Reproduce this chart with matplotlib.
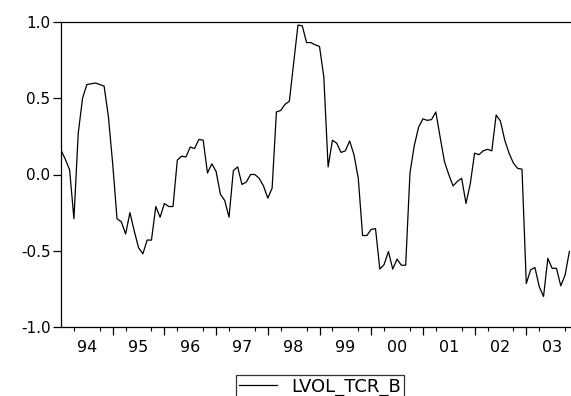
import matplotlib
matplotlib.use("Agg")
import matplotlib.pyplot as plt
import numpy as np

# Monthly series LVOL_TCR_B, Jan 1994 .. Nov 2003
start_year = 1994
values = [
    0.16, 0.10, 0.03, -0.29, 0.27, 0.50, 0.59, 0.595, 0.60, 0.59, 0.58, 0.38,      # 1994
    0.07, -0.29, -0.31, -0.39, -0.25, -0.37, -0.48, -0.52, -0.43, -0.43, -0.21, -0.28,  # 1995
    -0.19, -0.21, -0.21, 0.095, 0.12, 0.115, 0.18, 0.17, 0.23, 0.225, 0.01, 0.07,  # 1996
    0.02, -0.13, -0.17, -0.28, 0.025, 0.05, -0.065, -0.05, 0.0, 0.0, -0.025, -0.075,  # 1997
    -0.155, -0.09, 0.41, 0.42, 0.46, 0.48, 0.73, 0.98, 0.975, 0.865, 0.865, 0.85,  # 1998
    0.84, 0.64, 0.05, 0.225, 0.205, 0.145, 0.155, 0.22, 0.13, -0.025, -0.40, -0.40,  # 1999
    -0.36, -0.355, -0.62, -0.59, -0.505, -0.62, -0.555, -0.595, -0.595, 0.01, 0.19, 0.31,  # 2000
    0.365, 0.355, 0.36, 0.41, 0.245, 0.085, 0.0, -0.075, -0.045, -0.025, -0.19, -0.06,  # 2001
    0.14, 0.13, 0.155, 0.165, 0.155, 0.39, 0.35, 0.225, 0.14, 0.075, 0.04, 0.035,  # 2002
    -0.715, -0.625, -0.61, -0.735, -0.80, -0.55, -0.615, -0.615, -0.73, -0.66, -0.505,  # 2003
]
series_name = "LVOL_TCR_B"
year_labels = ["94", "95", "96", "97", "98", "99", "00", "01", "02", "03"]
y_ticks = [-1.0, -0.5, 0.0, 0.5, 1.0]

W, H = 571, 396
dpi = 100
fig = plt.figure(figsize=(W / dpi, H / dpi), dpi=dpi)
plt.rcParams['font.family'] = ['DejaVu Sans']

left, right, top, bottom = 61, 571, 22, 327
ax = fig.add_axes([left / W, 1 - bottom / H, (right - left) / W, (bottom - top) / H])

x = start_year + np.arange(len(values)) / 12.0
ax.plot(x, values, color='black', lw=0.9)

x_end = start_year + (right - left) / 51.7
ax.set_xlim(start_year, x_end)
ax.set_ylim(-1.0, 1.0)

for s in ['left', 'top', 'bottom']:
    ax.spines[s].set_linewidth(0.9)
ax.spines['right'].set_visible(False)

# y axis
ax.set_yticks(y_ticks)
ax.set_yticklabels([f"{v:.1f}" for v in y_ticks])
ax.tick_params(axis='y', direction='out', length=5.5, width=0.9, labelsize=11, pad=2)

# x axis: labels at mid-year, quarter minor ticks
years = np.arange(start_year, start_year + len(year_labels))
ax.set_xticks(years + 0.5)
ax.set_xticklabels(year_labels)
ax.tick_params(axis='x', which='major', length=0, labelsize=11.5, pad=9)
quarters = [y + q / 4 for y in years for q in (1, 2, 3) if y + q / 4 < x_end]
ax.set_xticks(quarters, minor=True)
ax.tick_params(axis='x', which='minor', direction='out', length=3, width=0.8)

sec = ax.secondary_xaxis('bottom')
sec.set_xticks(list(years[1:]))
sec.set_xticklabels([])
sec.tick_params(axis='x', direction='out', length=5.5, width=0.9)
sec.spines['bottom'].set_visible(False)

leg = fig.legend(handles=ax.get_lines(), labels=[series_name], loc='upper center',
                 bbox_to_anchor=(320 / W, 1 - 375 / H), fancybox=False, frameon=True,
                 edgecolor='black', fontsize=13, handlelength=2.1, handletextpad=0.8,
                 borderpad=0.15, borderaxespad=0)
leg.get_frame().set_linewidth(0.9)

fig.savefig("out.png", dpi=dpi)
